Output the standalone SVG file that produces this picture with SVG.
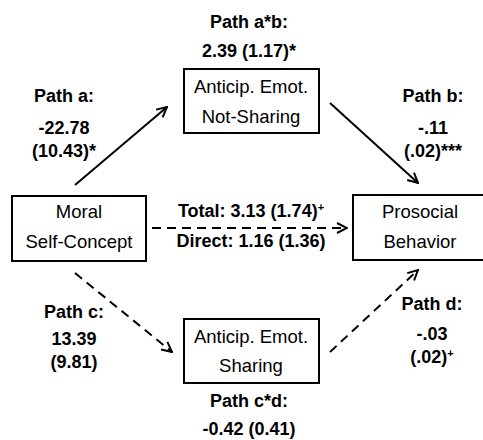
<svg xmlns="http://www.w3.org/2000/svg" width="483" height="440" viewBox="0 0 483 440">
<defs>
<style>
.box{fill:#fff;stroke:#000;stroke-width:2}
.t{font-family:"Liberation Sans",Arial,sans-serif;font-size:18.5px;fill:#000;text-anchor:middle}
.b{font-family:"Liberation Sans",Arial,sans-serif;font-size:18px;font-weight:bold;fill:#000;text-anchor:middle}
.ln{stroke:#000;stroke-width:2;fill:none;marker-end:url(#ah)}
.d{stroke-dasharray:9 6}
.sup{font-size:11px}
</style>
<marker id="ah" viewBox="0 0 12 12" refX="11" refY="6" markerWidth="12" markerHeight="12" markerUnits="userSpaceOnUse" orient="auto">
<path d="M1,1 L11,6 L1,11" fill="none" stroke="#000" stroke-width="2"/>
</marker>
</defs>
<rect width="483" height="440" fill="#fff"/>
<g id="connectors">
<line class="ln" x1="75" y1="185" x2="167" y2="107"/>
<line class="ln" x1="330" y1="103" x2="418" y2="183"/>
<line class="ln d" x1="75" y1="273" x2="172" y2="352"/>
<line class="ln d" x1="330" y1="352" x2="418" y2="270"/>
<line class="ln d" x1="152" y1="228" x2="347" y2="228"/>
</g>
<g id="node-notsharing">
<rect class="box" x="184" y="69" width="135" height="64"/>
<text class="t" x="251" y="93">Anticip. Emot.</text>
<text class="t" x="251" y="123">Not-Sharing</text>
</g>
<g id="node-sharing">
<rect class="box" x="184" y="319" width="135" height="64"/>
<text class="t" x="251" y="343">Anticip. Emot.</text>
<text class="t" x="251" y="372">Sharing</text>
</g>
<g id="node-moral">
<rect class="box" x="12" y="196" width="134" height="65"/>
<text class="t" x="79" y="218">Moral</text>
<text class="t" x="79" y="248">Self-Concept</text>
</g>
<g id="node-prosocial">
<rect class="box" x="353" y="195" width="140" height="65"/>
<text class="t" x="420" y="218">Prosocial</text>
<text class="t" x="420" y="248">Behavior</text>
</g>
<g id="labels">
<text class="b" x="249" y="28">Path a*b:</text>
<text class="b" x="249" y="57">2.39 (1.17)*</text>
<text class="b" x="64" y="102">Path a:</text>
<text class="b" x="64" y="134">-22.78</text>
<text class="b" x="64" y="157">(10.43)*</text>
<text class="b" x="433" y="102">Path b:</text>
<text class="b" x="433" y="134">-.11</text>
<text class="b" x="433" y="157">(.02)***</text>
<text class="b" x="251" y="217">Total: 3.13 (1.74)<tspan class="sup" dy="-6">+</tspan></text>
<text class="b" x="251" y="247">Direct: 1.16 (1.36)</text>
<text class="b" x="74" y="318">Path c:</text>
<text class="b" x="74" y="345">13.39</text>
<text class="b" x="74" y="368">(9.81)</text>
<text class="b" x="432" y="310">Path d:</text>
<text class="b" x="432" y="340">-.03</text>
<text class="b" x="432" y="363">(.02)<tspan class="sup" dy="-6">+</tspan></text>
<text class="b" x="249" y="407">Path c*d:</text>
<text class="b" x="249" y="435">-0.42 (0.41)</text>
</g>
</svg>
